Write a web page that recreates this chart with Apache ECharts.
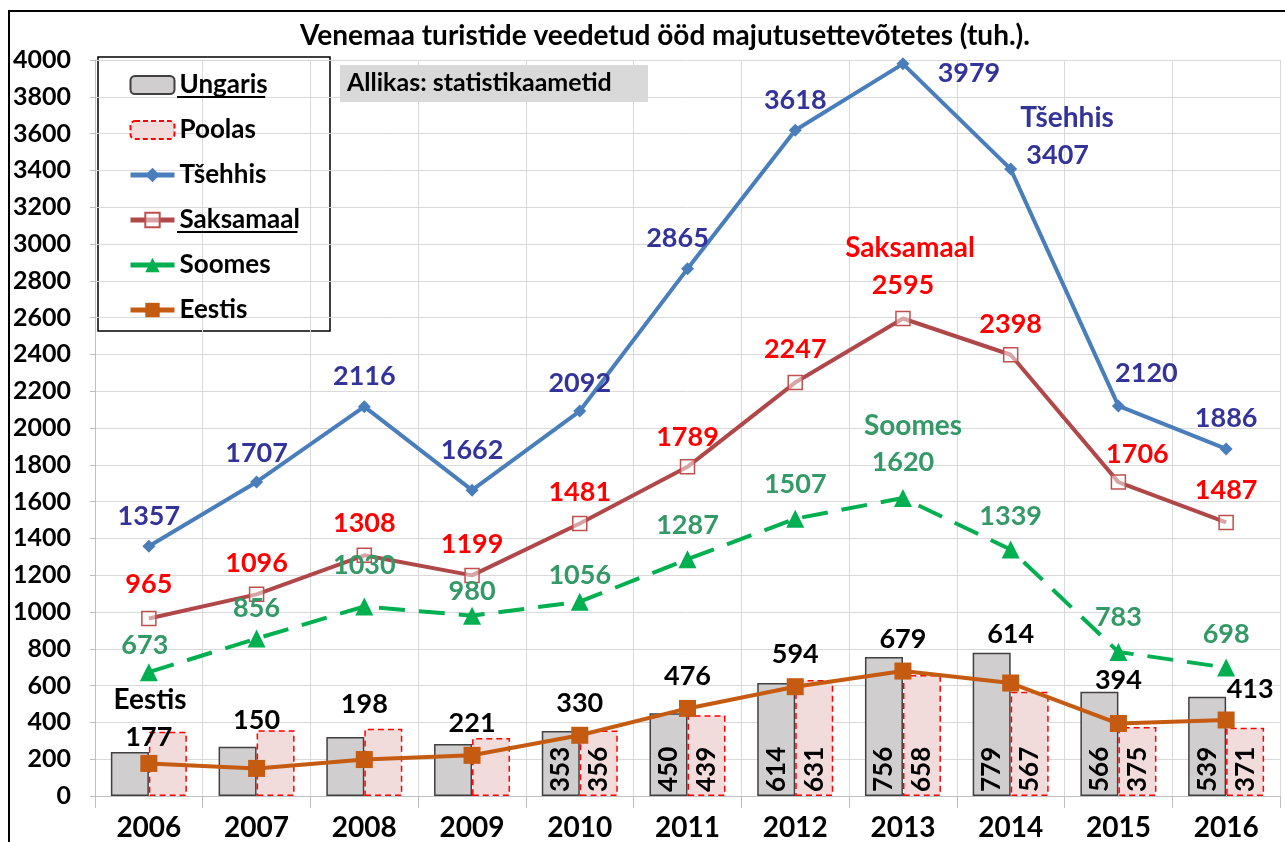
<!DOCTYPE html>
<html>
<head>
<meta charset="utf-8">
<script src="https://cdn.jsdelivr.net/npm/echarts@6/dist/echarts.min.js"></script>
<style>
  html, body { margin: 0; padding: 0; background: #fff; }
  #chart { width: 1285px; height: 842px; }
</style>
</head>
<body>
<div id="chart"></div>
<script>
// andmed
const years = ["2006", "2007", "2008", "2009", "2010", "2011", "2012", "2013", "2014", "2015", "2016"];
const ungaris = [239, 268, 321, 283, 353, 450, 614, 756, 779, 566, 539];
const poolas = [349, 358, 366, 315, 356, 439, 631, 658, 567, 375, 371];
const tsehhis = [1357, 1707, 2116, 1662, 2092, 2865, 3618, 3979, 3407, 2120, 1886];
const saksamaal = [965, 1096, 1308, 1199, 1481, 1789, 2247, 2595, 2398, 1706, 1487];
const soomes = [673, 856, 1030, 980, 1056, 1287, 1507, 1620, 1339, 783, 698];
const eestis = [177, 150, 198, 221, 330, 476, 594, 679, 614, 394, 413];
const yTicks = { min: 0, max: 4000, step: 200 };

// siltide nihked punkti suhtes (px)
const offTsehhis = [[0,-30],[0,-29],[0,-30],[0,-40],[0,-28],[-10,-31],[0,-30],[66,9],[47,-14],[28,-33],[0,-31]];
const offSaksamaal = [[0,-34],[0,-31],[0,-32],[0,-31],[0,-31],[0,-30],[0,-33],[0,-33],[0,-30],[19,-28],[0,-32]];
const offSoomes = [[-4,-27],[0,-30],[0,-41],[0,-24],[0,-26],[0,-34],[0,-34],[0,-36],[0,-33],[0,-35],[0,-33]];
const offEestis = [[0,-26],[0,-48],[0,-55],[0,-32],[0,-32],[0,-32],[0,-32],[0,-32],[0,-49],[0,-43],[24,-31]];
const barLabelFrom = 4; // tulpade sildid alates 2010

const FONT = "Lato";
const LEG_FS = 26;

let withLabels = (vals, offs) => vals.map((v, i) => ({
  value: v,
  label: { offset: offs[i] }
}));

let textWidth = (txt, size) => {
  let c = document.createElement("canvas").getContext("2d");
  c.font = "bold " + size + "px " + FONT;
  return c.measureText(txt).width;
};

let myChart = echarts.init(document.getElementById("chart"));

let lineLabel = (color) => ({
  show: true,
  position: "inside",
  align: "center",
  verticalAlign: "middle",
  color: color,
  fontSize: 27,
  fontWeight: "bold",
  fontFamily: FONT
});

let barLabel = {
  show: true,
  position: "insideBottom",
  rotate: 90,
  align: "left",
  verticalAlign: "middle",
  distance: 4,
  color: "#000",
  fontSize: 26,
  fontWeight: "bold",
  fontFamily: FONT,
  formatter: (p) => (p.dataIndex >= barLabelFrom ? p.value : "")
};

let legendTop = 72;
let legendGap = 45;
let uW = textWidth("Ungaris", LEG_FS);
let sW = textWidth("Saksamaal", LEG_FS);

let option = {
  animation: false,
  textStyle: { fontFamily: FONT },
  title: {
    text: "Venemaa turistide veedetud ööd majutusettevõtetes (tuh.).",
    left: 660,
    textAlign: "center",
    top: 17,
    textStyle: { fontSize: 28, fontWeight: "bold", color: "#000", fontFamily: FONT }
  },
  grid: { left: 95, right: 5, top: 60, bottom: 46 },
  legend: {
    orient: "vertical",
    left: 128,
    top: legendTop,
    padding: 0,
    itemWidth: 44,
    itemHeight: 18,
    itemGap: legendGap - 26,
    textStyle: { fontSize: LEG_FS, lineHeight: 26, fontWeight: "bold", color: "#000", fontFamily: FONT },
    data: [
      { name: "Ungaris" },
      { name: "Poolas", itemStyle: { borderType: [5, 3] } },
      { name: "Tšehhis", lineStyle: { width: 5 } },
      { name: "Saksamaal", lineStyle: { width: 5 } },
      { name: "Soomes", lineStyle: { type: "solid", width: 5 } },
      { name: "Eestis", lineStyle: { width: 5 } }
    ]
  },
  xAxis: {
    type: "category",
    data: years,
    axisLine: { lineStyle: { color: "#bfbfbf", width: 1 } },
    axisTick: { show: true, length: 12, lineStyle: { color: "#bfbfbf" } },
    splitLine: { show: true, lineStyle: { color: "#d9d9d9", width: 1 } },
    axisLabel: { color: "#000", fontSize: 28, fontWeight: "bold", margin: 18, fontFamily: FONT }
  },
  yAxis: {
    type: "value",
    min: yTicks.min,
    max: yTicks.max,
    interval: yTicks.step,
    axisLine: { show: true, lineStyle: { color: "#bfbfbf" } },
    axisTick: { show: true, length: 5, lineStyle: { color: "#bfbfbf" } },
    splitLine: { lineStyle: { color: "#d9d9d9", width: 1 } },
    axisLabel: {
      color: "#000", fontSize: 25, fontWeight: "bold", margin: 24, fontFamily: FONT,
      formatter: (v) => String(v)
    }
  },
  series: [
    {
      name: "Ungaris",
      type: "bar",
      barWidth: 38,
      barGap: "0%",
      data: ungaris,
      itemStyle: { color: "#d0cece", borderColor: "#404040", borderWidth: 1.5 },
      label: barLabel
    },
    {
      name: "Poolas",
      type: "bar",
      barWidth: 38,
      barGap: "0%",
      data: poolas,
      itemStyle: { color: "#f2dcdb", borderColor: "#ff0000", borderWidth: 1.5, borderType: [6, 4] },
      label: barLabel
    },
    {
      name: "Tšehhis",
      type: "line",
      data: withLabels(tsehhis, offTsehhis),
      symbol: "diamond",
      symbolSize: 13,
      itemStyle: { color: "#4a7ebb" },
      lineStyle: { color: "#4a7ebb", width: 4 },
      label: lineLabel("#333399"),
      z: 4
    },
    {
      name: "Saksamaal",
      type: "line",
      data: withLabels(saksamaal, offSaksamaal),
      symbol: "rect",
      symbolSize: 14,
      itemStyle: { color: "rgba(255,255,255,0.5)", borderColor: "#c0504d", borderWidth: 1.5 },
      lineStyle: { color: "#b0484a", width: 4 },
      label: lineLabel("#ff0000"),
      z: 4
    },
    {
      name: "Soomes",
      type: "line",
      data: withLabels(soomes, offSoomes),
      symbol: "triangle",
      symbolSize: 18,
      itemStyle: { color: "#00b050" },
      lineStyle: { color: "#00b050", width: 4, type: [26, 14] },
      label: lineLabel("#339966"),
      z: 4
    },
    {
      name: "Eestis",
      type: "line",
      data: withLabels(eestis, offEestis),
      symbol: "rect",
      symbolSize: 17,
      itemStyle: { color: "#c55a11" },
      lineStyle: { color: "#c55a11", width: 4 },
      label: lineLabel("#000"),
      z: 5
    }
  ],
  graphic: [
    // raam
    {
      type: "polyline",
      z: 100,
      shape: { points: [[9, 842], [9, 11], [1285, 11]] },
      style: { stroke: "#000", lineWidth: 2, fill: null }
    },
    // legendi kast
    {
      type: "rect",
      z: -1,
      shape: { x: 98, y: 57, width: 232, height: 274 },
      style: { fill: "#fff", stroke: "#000", lineWidth: 1.5 }
    },
    {
      type: "line",
      z: 100,
      shape: { x1: 177, y1: legendTop + 25, x2: 177 + uW, y2: legendTop + 25 },
      style: { stroke: "#000", lineWidth: 2 }
    },
    {
      type: "line",
      z: 100,
      shape: { x1: 177, y1: legendTop + 3 * legendGap + 25, x2: 177 + sW, y2: legendTop + 3 * legendGap + 25 },
      style: { stroke: "#000", lineWidth: 2 }
    },
    // allikas
    {
      type: "rect",
      z: 50,
      shape: { x: 340, y: 65, width: 308, height: 37 },
      style: { fill: "#d9d9d9" }
    },
    {
      type: "text",
      z: 51,
      x: 347,
      y: 83,
      style: { text: "Allikas: statistikaametid", fill: "#000", font: "bold 25px " + FONT, textVerticalAlign: "middle" }
    },
    // seeriate nimed
    {
      type: "text", z: 60, x: 150, y: 700,
      style: { text: "Eestis", fill: "#000", font: "bold 28px " + FONT, textAlign: "center", textVerticalAlign: "middle" }
    },
    {
      type: "text", z: 60, x: 1067, y: 118,
      style: { text: "Tšehhis", fill: "#333399", font: "bold 28px " + FONT, textAlign: "center", textVerticalAlign: "middle" }
    },
    {
      type: "text", z: 60, x: 910, y: 248,
      style: { text: "Saksamaal", fill: "#ff0000", font: "bold 28px " + FONT, textAlign: "center", textVerticalAlign: "middle" }
    },
    {
      type: "text", z: 60, x: 913, y: 426,
      style: { text: "Soomes", fill: "#339966", font: "bold 28px " + FONT, textAlign: "center", textVerticalAlign: "middle" }
    }
  ]
};

myChart.setOption(option);
window.addEventListener("resize", () => {
  myChart.resize();
});
</script>
</body>
</html>
